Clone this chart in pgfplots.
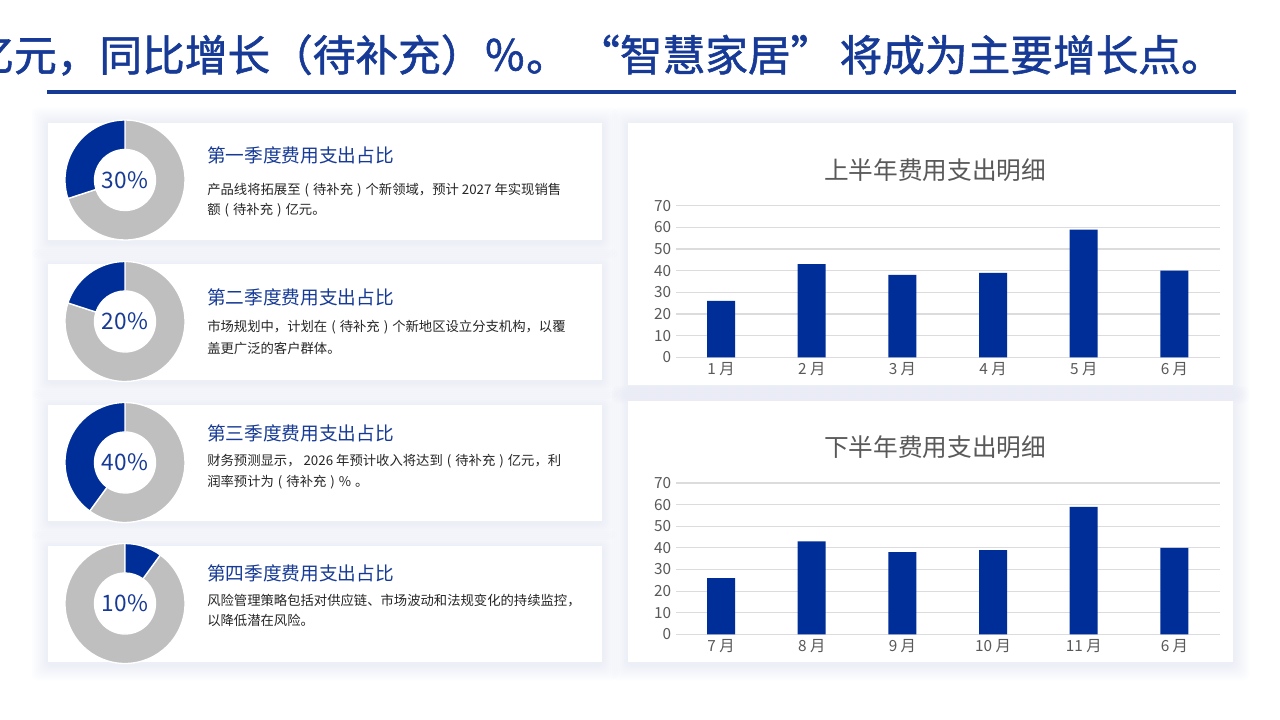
\documentclass[border=0pt]{standalone}
\usepackage{fontspec}
\setmainfont{Noto Sans CJK SC}
\newfontfamily\titlefont[FakeBold=1.3]{Noto Sans CJK SC}
\usepackage{pgfplots}
\pgfplotsset{compat=1.18}
\definecolor{barblue}{RGB}{0,46,153}
\definecolor{txtblue}{RGB}{22,58,150}
\definecolor{donutgrey}{RGB}{191,191,191}
\definecolor{gridgrey}{RGB}{220,220,222}
\definecolor{lblgrey}{RGB}{89,89,89}
\definecolor{bodytxt}{RGB}{38,38,38}
\definecolor{shadowc}{RGB}{200,210,238}

% annular sector: cx, cy, start angle, end angle, colour
\newcommand{\sector}[5]{%
  \fill[#5, draw=white, line width=1pt]
    ([shift={(#1,#2)}]#3:60) arc[start angle=#3, end angle=#4, radius=60]
    -- ([shift={(#1,#2)}]#4:30.5) arc[start angle=#4, end angle=#3, radius=30.5] -- cycle;}
% donut: cx, cy, start angle of blue part, value (percent)
\newcommand{\donut}[4]{%
  \pgfmathsetmacro{\endang}{#3+3.6*#4}%
  \pgfmathsetmacro{\fullang}{#3+360}%
  \sector{#1}{#2}{\endang}{\fullang}{donutgrey}%
  \sector{#1}{#2}{#3}{\endang}{barblue}%
  \node[txtblue, font=\fontsize{17}{17}\selectfont] at (#1,#2) {#4\%};}
% card with soft glow
\newcommand{\card}[4]{%
  \foreach \k in {1,...,8}{%
    \fill[shadowc, opacity=0.04, rounded corners=4]
      (#1-\k*2,#2-\k*2-2) rectangle (#3+\k*2,#4+\k*2-1);}%
  \fill[white] (#1,#2) rectangle (#3,#4);}

\newcommand{\head}[1]{{\color{txtblue}\fontsize{14}{14}\selectfont #1}}
\newcommand{\body}[1]{{\color{bodytxt}\fontsize{10}{10}\selectfont #1}}
\newcommand{\po}{\hspace{0.3em}(\hspace{0.3em}}
\newcommand{\pc}{\hspace{0.3em})\hspace{0.3em}}

\pgfplotsset{barstyle/.style={
  scale only axis, width=408pt,
  xmin=-0.5, xmax=5.5, ymin=0, ymax=70,
  ytick={0,10,...,70}, xtick={0,...,5},
  axis line style={draw=none}, major tick length=0,
  ymajorgrids, grid style={gridgrey, line width=0.9pt},
  tick label style={lblgrey, font=\fontsize{11.5}{12}\selectfont},
  /pgf/number format/assume math mode=true,
  clip=false, anchor=south west}}

\begin{document}
\begin{tikzpicture}[x=0.75pt,y=0.75pt]
\useasboundingbox (0,0) rectangle (1280,719);
\clip (0,0) rectangle (1280,719);
\fill[white] (0,0) rectangle (1280,719);

% title
\node[anchor=base east, inner sep=0, txtblue, font=\titlefont\fontsize{32}{32}\selectfont]
  at (1224,648) {亿元，同比增长（待补充）％。\hspace{0.2em}“智慧家居”\hspace{0.15em}将成为主要增长点。};
\draw[txtblue, line width=3pt] (47,627) -- (1236,627);

% cards
\card{48}{479}{602}{596}
\card{48}{339}{602}{455}
\card{48}{198}{602}{314}
\card{48}{57}{602}{173}
\card{628}{334}{1233}{596}
\card{628}{57}{1233}{318}

% donuts
\donut{125}{539}{90}{30}
\donut{125}{397.5}{90}{20}
\donut{125}{256.5}{90}{40}
\donut{125}{115.5}{54}{10}

% card texts
\node[anchor=west, inner sep=0] at (207,564) {\head{第一季度费用支出占比}};
\node[anchor=west, inner sep=0] at (207,529) {\body{产品线将拓展至\po 待补充\pc 个新领域，预计 2027 年实现销售}};
\node[anchor=west, inner sep=0] at (207,509) {\body{额\po 待补充\pc 亿元。}};

\node[anchor=west, inner sep=0] at (207,422) {\head{第二季度费用支出占比}};
\node[anchor=west, inner sep=0] at (207,392) {\body{市场规划中，计划在\po 待补充\pc 个新地区设立分支机构，以覆}};
\node[anchor=west, inner sep=0] at (207,371) {\body{盖更广泛的客户群体。}};

\node[anchor=west, inner sep=0] at (207,286) {\head{第三季度费用支出占比}};
\node[anchor=west, inner sep=0] at (207,258) {\body{财务预测显示， 2026 年预计收入将达到\po 待补充\pc 亿元，利}};
\node[anchor=west, inner sep=0] at (207,237) {\body{润率预计为\po 待补充\pc \%\hspace{0.3em}。}};

\node[anchor=west, inner sep=0] at (207,146) {\head{第四季度费用支出占比}};
\node[anchor=west, inner sep=0] at (207,118) {\body{风险管理策略包括对供应链、市场波动和法规变化的持续监控，}};
\node[anchor=west, inner sep=0] at (207,99) {\body{以降低潜在风险。}};

% chart titles
\node[lblgrey, font=\fontsize{18.5}{18.5}\selectfont] at (935,549) {上半年费用支出明细};
\node[lblgrey, font=\fontsize{18.5}{18.5}\selectfont] at (935,272) {下半年费用支出明细};

\begin{axis}[barstyle, at={(506.8pt,271.3pt)}, height=113.7pt,
  xticklabels={1 月,2 月,3 月,4 月,5 月,6 月}]
\addplot[ybar, bar width=21pt, fill=barblue, draw=none]
  coordinates {(0,26) (1,43) (2,38) (3,39) (4,59) (5,40)};
\end{axis}

\begin{axis}[barstyle, at={(506.8pt,63.5pt)}, height=113.5pt,
  xticklabels={7 月,8 月,9 月,10 月,11 月,6 月}]
\addplot[ybar, bar width=21pt, fill=barblue, draw=none]
  coordinates {(0,26) (1,43) (2,38) (3,39) (4,59) (5,40)};
\end{axis}
\end{tikzpicture}
\end{document}
